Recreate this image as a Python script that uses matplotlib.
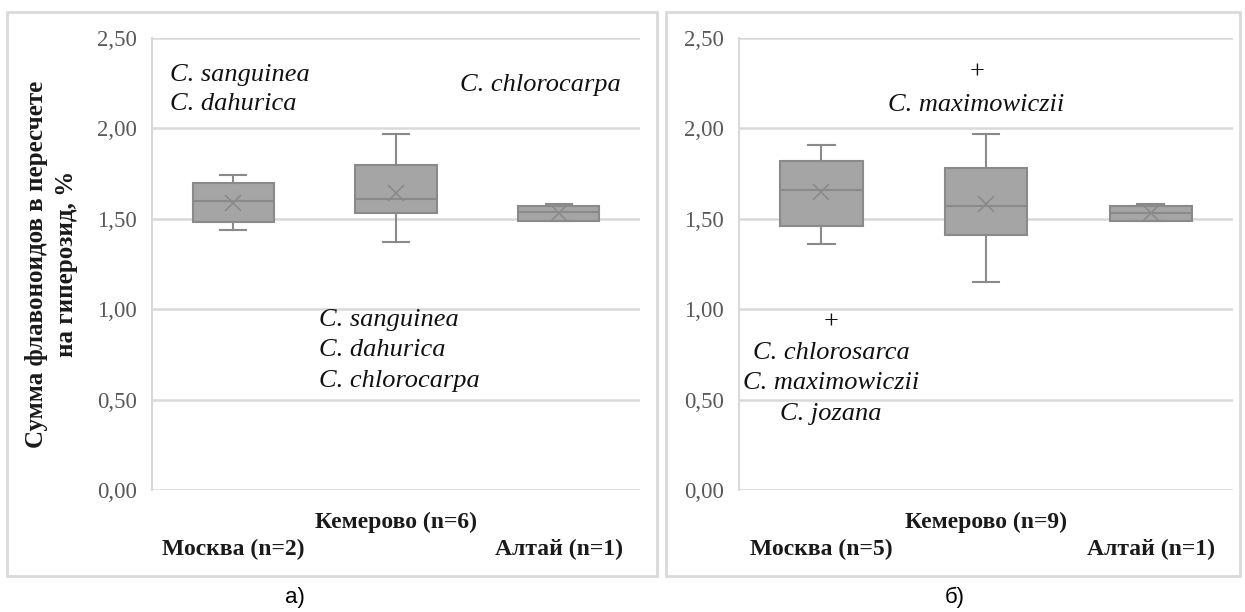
import numpy as np
import matplotlib
import matplotlib.pyplot as plt
from matplotlib.patches import Rectangle

matplotlib.use("agg")

# box statistics, one list per panel
categories_a = ["Москва (n=2)", "Кемерово (n=6)", "Алтай (n=1)"]
whislo_a = [1.44, 1.37, 1.49]
q1_a = [1.48, 1.53, 1.49]
med_a = [1.60, 1.61, 1.54]
q3_a = [1.70, 1.80, 1.57]
whishi_a = [1.74, 1.97, 1.58]
mean_a = [1.59, 1.64, 1.53]

categories_b = ["Москва (n=5)", "Кемерово (n=9)", "Алтай (n=1)"]
whislo_b = [1.36, 1.15, 1.49]
q1_b = [1.46, 1.41, 1.49]
med_b = [1.66, 1.57, 1.53]
q3_b = [1.82, 1.78, 1.57]
whishi_b = [1.91, 1.97, 1.58]
mean_b = [1.65, 1.58, 1.53]

yticks = [0.0, 0.5, 1.0, 1.5, 2.0, 2.5]
ylabel = "Сумма флавоноидов в пересчете\nна гиперозид, %"

# species notes: (x in data units, baseline y in pixels, text, ha)
notes_a = [
    (0.611, 81, "C. sanguinea", "left"),
    (0.611, 110, "C. dahurica", "left"),
    (2.393, 91, "C. chlorocarpa", "left"),
    (1.527, 326, "C. sanguinea", "left"),
    (1.527, 356, "C. dahurica", "left"),
    (1.527, 387, "C. chlorocarpa", "left"),
]
notes_b = [
    (1.94, 111, "C. maximowiczii", "center"),
    (1.06, 359, "C. chlorosarca", "center"),
    (1.06, 389, "C. maximowiczii", "center"),
    (1.06, 420, "C. jozana", "center"),
]
plus_b = [(1.945, 73), (1.06, 323)]

W, H = 1245, 612
AX_TOP, AX_BOT = 38, 490
SERIF = "Liberation Serif"
BOX_FACE = "#a5a5a5"
BOX_EDGE = "#8a8a8a"
GRID = "#d9d9d9"


def px_rect(x0, y0, x1, y1):
    """pixel box (top-left origin) -> figure fraction [l, b, w, h]"""
    return [x0 / W, 1 - y1 / H, (x1 - x0) / W, (y1 - y0) / H]


def px_to_y(py):
    return (AX_BOT - py) / (AX_BOT - AX_TOP) * 2.5


def box_panel(ax, cats, wlo, q1, med, q3, whi, mean):
    stats = []
    for c, a, b, m, d, e, mu in zip(cats, wlo, q1, med, q3, whi, mean):
        stats.append({"label": c, "whislo": a, "q1": b, "med": m, "q3": d,
                      "whishi": e, "mean": mu, "fliers": []})
    ax.bxp(stats, positions=[1, 2, 3], widths=0.5, patch_artist=True,
           showmeans=True, capwidths=0.16,
           boxprops=dict(facecolor=BOX_FACE, edgecolor=BOX_EDGE, linewidth=1.5),
           medianprops=dict(color=BOX_EDGE, linewidth=1.5),
           whiskerprops=dict(color=BOX_EDGE, linewidth=1.5),
           capprops=dict(color=BOX_EDGE, linewidth=1.5),
           meanprops=dict(marker="x", markeredgecolor=BOX_EDGE, markersize=12,
                          markeredgewidth=1.2))
    ax.set_xlim(0.5, 3.5)
    ax.set_ylim(0, 2.5)
    ax.set_yticks(yticks)
    ax.set_yticklabels([f"{v:.2f}".replace(".", ",") for v in yticks],
                       fontfamily=SERIF, fontsize=16.5, color="#595959")
    ax.yaxis.grid(True, color=GRID, linewidth=1.8)
    ax.set_axisbelow(True)
    for s in ["top", "right", "bottom"]:
        ax.spines[s].set_visible(False)
    ax.spines["left"].set_color(GRID)
    ax.spines["left"].set_linewidth(1.5)
    ax.tick_params(axis="y", length=0, pad=11)
    ax.tick_params(axis="x", length=0, pad=16)
    ax.set_xticks([1, 2, 3])
    ax.set_xticklabels(["\n" + cats[0], cats[1], "\n" + cats[2]],
                       fontfamily=SERIF, fontsize=17, fontweight="bold",
                       color="#1a1a1a", va="top", linespacing=1.34)


def add_notes(ax, notes):
    for x, py, s, ha in notes:
        ax.text(x, px_to_y(py), s, ha=ha, va="baseline", fontfamily=SERIF,
                fontstyle="italic", fontsize=19, color="#111111")


fig = plt.figure(figsize=(W / 100, H / 100), dpi=100)

# panel frames
for x0, x1 in [(7, 657), (666, 1240)]:
    l, b, w, h = px_rect(x0, 12, x1, 576)
    fig.patches.append(Rectangle((l, b), w, h, transform=fig.transFigure,
                                 fill=False, edgecolor=GRID, linewidth=2))

ax1 = fig.add_axes(px_rect(152, AX_TOP, 640, AX_BOT))
box_panel(ax1, categories_a, whislo_a, q1_a, med_a, q3_a, whishi_a, mean_a)
ax1.set_ylabel(ylabel, fontfamily=SERIF, fontsize=18, fontweight="bold",
               color="#1a1a1a", va="center", linespacing=1.4)
ax1.yaxis.set_label_coords(-0.206, 0.5)
add_notes(ax1, notes_a)

ax2 = fig.add_axes(px_rect(739, AX_TOP, 1233, AX_BOT))
box_panel(ax2, categories_b, whislo_b, q1_b, med_b, q3_b, whishi_b, mean_b)
add_notes(ax2, notes_b)
for x, py in plus_b:
    ax2.text(x, px_to_y(py), "+", ha="center", va="center", fontfamily=SERIF,
             fontsize=19, color="#111111")

# panel captions
fig.text(295 / W, 1 - 597 / H, "а)", ha="center", va="center",
         fontfamily="Liberation Sans", fontsize=16)
fig.text(955 / W, 1 - 597 / H, "б)", ha="center", va="center",
         fontfamily="Liberation Sans", fontsize=16)

fig.savefig("out.png", dpi=100)
